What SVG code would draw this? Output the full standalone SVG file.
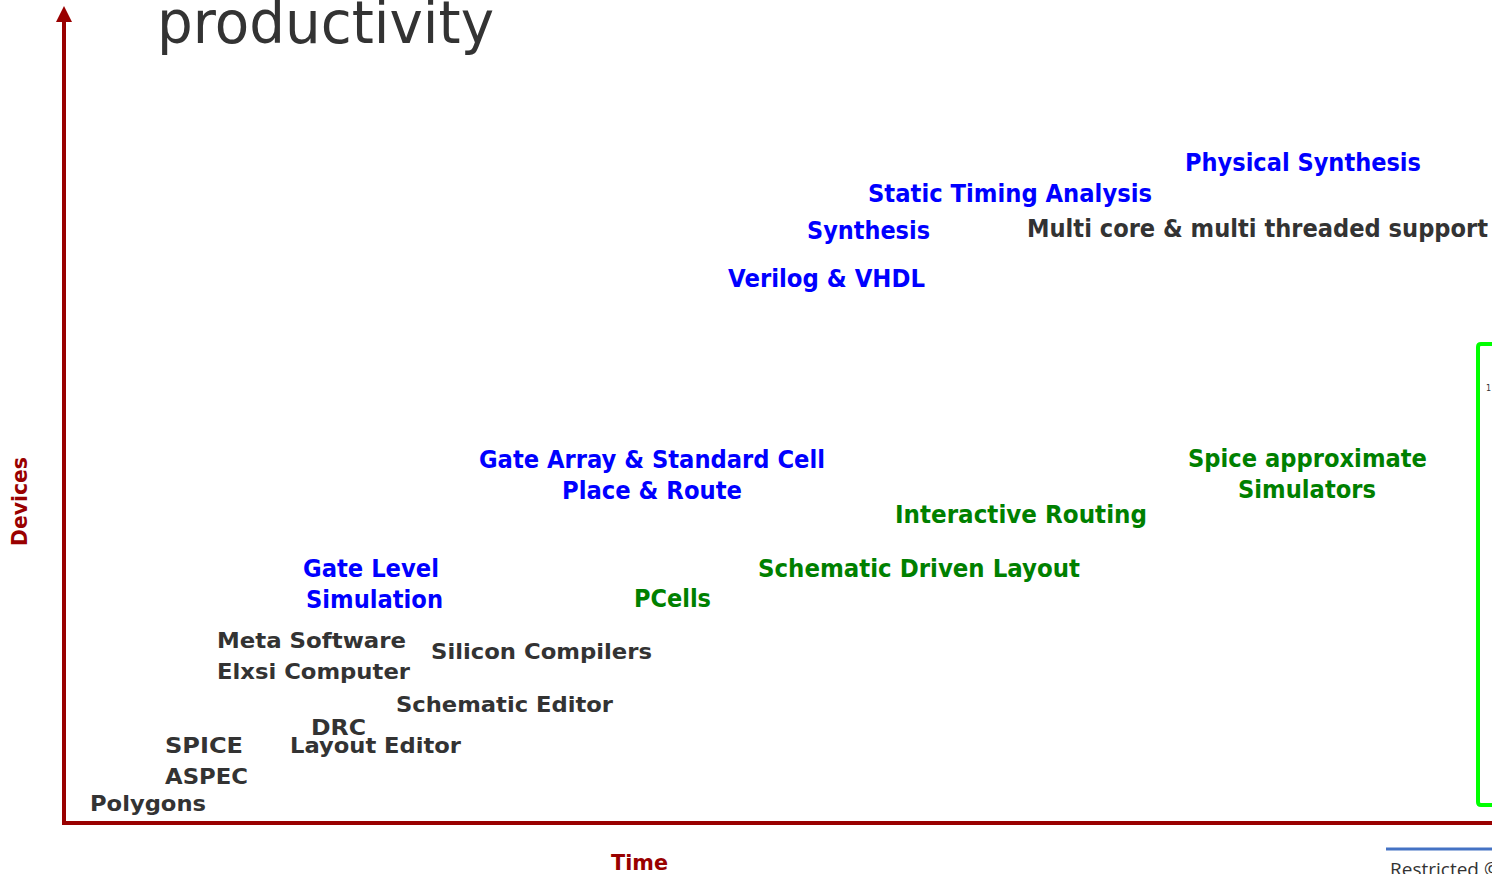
<svg xmlns="http://www.w3.org/2000/svg" width="1492" height="874" viewBox="0 0 1492 874">
<style>
text{font-family:"DejaVu Sans","Liberation Sans",sans-serif;font-weight:bold}
.g{fill:#333333;font-size:22px}
.b{fill:#0000FF;font-size:25px}
.n{fill:#008000;font-size:25px}
.k{fill:#333333;font-size:25px}
.ax{fill:#990000;font-size:22px}
</style>
<defs>
<marker id="ah" viewBox="0 0 10 10" refX="5" refY="0" markerWidth="16" markerHeight="16" markerUnits="userSpaceOnUse" orient="auto">
<path d="M0,10 L5,0 L10,10 Z" fill="#990000"/>
</marker>
</defs>
<rect width="1492" height="874" fill="#ffffff"/>
<text x="157" y="43" style="font-weight:normal;font-size:58px;fill:#333333" textLength="337" lengthAdjust="spacingAndGlyphs">productivity</text>
<g id="connectors">
<line x1="64" y1="825" x2="64" y2="21" stroke="#990000" stroke-width="4"/>
<path d="M56,22 L64,6 L72,22 Z" fill="#990000"/>
<line x1="62" y1="823" x2="1492" y2="823" stroke="#990000" stroke-width="4"/>
</g>
<g id="axis-labels">
<text class="ax" transform="translate(27,546) rotate(-90)" textLength="89" lengthAdjust="spacingAndGlyphs">Devices</text>
<text class="ax" x="611" y="870" textLength="57" lengthAdjust="spacingAndGlyphs">Time</text>
</g>
<g id="n-physical"><text class="b" x="1185" y="171" textLength="236" lengthAdjust="spacingAndGlyphs">Physical Synthesis</text></g>
<g id="n-sta"><text class="b" x="868" y="202" textLength="284" lengthAdjust="spacingAndGlyphs">Static Timing Analysis</text></g>
<g id="n-synthesis"><text class="b" x="807" y="239" textLength="123" lengthAdjust="spacingAndGlyphs">Synthesis</text></g>
<g id="n-multicore"><text class="k" x="1027" y="237" textLength="461" lengthAdjust="spacingAndGlyphs">Multi core &amp; multi threaded support</text></g>
<g id="n-verilog"><text class="b" x="728" y="287" textLength="197" lengthAdjust="spacingAndGlyphs">Verilog &amp; VHDL</text></g>
<g id="n-gatearray">
<text class="b" x="479" y="468" textLength="346" lengthAdjust="spacingAndGlyphs">Gate Array &amp; Standard Cell</text>
<text class="b" x="562" y="499" textLength="180" lengthAdjust="spacingAndGlyphs">Place &amp; Route</text>
</g>
<g id="n-interactive"><text class="n" x="895" y="523" textLength="252" lengthAdjust="spacingAndGlyphs">Interactive Routing</text></g>
<g id="n-spice-approx">
<text class="n" x="1188" y="467" textLength="239" lengthAdjust="spacingAndGlyphs">Spice approximate</text>
<text class="n" x="1238" y="498" textLength="138" lengthAdjust="spacingAndGlyphs">Simulators</text>
</g>
<g id="n-sdl"><text class="n" x="758" y="577" textLength="322" lengthAdjust="spacingAndGlyphs">Schematic Driven Layout</text></g>
<g id="n-pcells"><text class="n" x="634" y="607" textLength="77" lengthAdjust="spacingAndGlyphs">PCells</text></g>
<g id="n-gatelevel">
<text class="b" x="303" y="577" textLength="136" lengthAdjust="spacingAndGlyphs">Gate Level</text>
<text class="b" x="306" y="608" textLength="137" lengthAdjust="spacingAndGlyphs">Simulation</text>
</g>
<g id="n-meta">
<text class="g" x="217" y="648" textLength="189" lengthAdjust="spacingAndGlyphs">Meta Software</text>
<text class="g" x="217" y="679" textLength="193" lengthAdjust="spacingAndGlyphs">Elxsi Computer</text>
</g>
<g id="n-silicon"><text class="g" x="431" y="659" textLength="221" lengthAdjust="spacingAndGlyphs">Silicon Compilers</text></g>
<g id="n-schematic"><text class="g" x="396" y="712" textLength="217" lengthAdjust="spacingAndGlyphs">Schematic Editor</text></g>
<g id="n-drc"><text class="g" x="311" y="735" textLength="55" lengthAdjust="spacingAndGlyphs">DRC</text></g>
<g id="n-layout"><text class="g" x="290" y="753" textLength="171" lengthAdjust="spacingAndGlyphs">Layout Editor</text></g>
<g id="n-spice"><text class="g" x="165" y="753" textLength="78" lengthAdjust="spacingAndGlyphs">SPICE</text></g>
<g id="n-aspec"><text class="g" x="165" y="784" textLength="83" lengthAdjust="spacingAndGlyphs">ASPEC</text></g>
<g id="n-polygons"><text class="g" x="90" y="811" textLength="116" lengthAdjust="spacingAndGlyphs">Polygons</text></g>
<g id="green-box">
<path d="M1500,344 L1481,344 Q1478,344 1478,347 L1478,802 Q1478,805 1481,805 L1500,805" fill="none" stroke="#00FF00" stroke-width="4"/>
<text x="1486" y="391" style="font-weight:normal;font-size:8px;fill:#333333">1</text>
</g>
<g id="footer">
<line x1="1386" y1="849" x2="1492" y2="849" stroke="#4472C4" stroke-width="3"/>
<text x="1390" y="876" style="font-weight:normal;font-size:19px;fill:#333333;font-family:'Open Sans','Liberation Sans',sans-serif">Restricted ©</text>
</g>
</svg>
